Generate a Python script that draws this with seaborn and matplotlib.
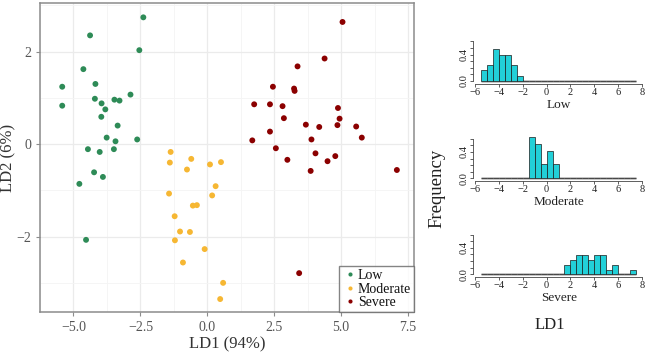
import numpy as np
import pandas as pd
import matplotlib
matplotlib.use("Agg")
import matplotlib.pyplot as plt
import seaborn as sns

# ---- data ----
groups = ["Low", "Moderate", "Severe"]
low_ld1 = [-2.39, -4.38, -2.54, -4.63, -5.42, -4.18, -2.87, -5.42, -4.20, -3.47, -3.28, -3.95, -3.81,
           -3.96, -3.35, -3.76, -3.43, -2.62, -4.46, -4.02, -3.49, -4.23, -3.90, -4.78, -4.53]
low_ld2 = [2.74, 2.35, 2.03, 1.62, 1.24, 1.30, 1.07, 0.83, 0.98, 0.96, 0.94, 0.88, 0.75,
           0.59, 0.40, 0.14, 0.06, 0.10, -0.11, -0.17, -0.11, -0.61, -0.71, -0.86, -2.07]
mod_ld1 = [-1.37, -1.40, -0.60, -0.76, 0.10, 0.51, 0.31, -1.43, 0.18, -0.54, -0.39, -1.22, -1.02,
           -0.65, -1.21, -0.10, -0.91, 0.59, 0.48]
mod_ld2 = [-0.17, -0.40, -0.32, -0.55, -0.44, -0.39, -0.91, -1.07, -1.11, -1.33, -1.32, -1.56, -1.89,
           -1.90, -2.08, -2.27, -2.56, -3.00, -3.35]
sev_ld1 = [5.05, 4.38, 3.37, 2.45, 3.24, 3.26, 1.75, 2.34, 2.81, 4.88, 2.86, 4.94, 3.68, 4.18,
           4.86, 5.56, 2.34, 5.77, 3.89, 1.68, 2.56, 4.04, 4.78, 2.99, 4.49, 3.86, 7.08, 3.43]
sev_ld2 = [2.64, 1.85, 1.68, 1.24, 1.20, 1.15, 0.86, 0.86, 0.82, 0.78, 0.56, 0.55, 0.42, 0.37,
           0.41, 0.38, 0.27, 0.14, 0.10, 0.08, -0.09, -0.20, -0.26, -0.34, -0.37, -0.58, -0.56, -2.79]

x_ticks = [-5.0, -2.5, 0.0, 2.5, 5.0, 7.5]
y_ticks = [-2, 0, 2]
hist_xticks = [-6, -4, -2, 0, 2, 4, 6, 8]
hist_yticks = [0.0, 0.1, 0.2, 0.3, 0.4, 0.5, 0.6]
hist_ylabels = ["0.0", "", "", "", "0.4", "", ""]

colors = {"Low": "#2e8b57", "Moderate": "#f6b733", "Severe": "#8b0000"}
hist_color = "#22d0d8"

df = pd.DataFrame({
    "LD1": low_ld1 + mod_ld1 + sev_ld1,
    "LD2": low_ld2 + mod_ld2 + sev_ld2,
    "Group": ["Low"] * len(low_ld1) + ["Moderate"] * len(mod_ld1) + ["Severe"] * len(sev_ld1),
})

sns.set_theme(style="white")
plt.rcParams["font.family"] = ["Liberation Serif", "DejaVu Serif"]
plt.rcParams["axes.unicode_minus"] = True

W, H = 650, 360
fig = plt.figure(figsize=(6.5, 3.6), dpi=100)

def frac(l, t, r, b):
    return [l / W, 1 - b / H, (r - l) / W, (b - t) / H]

# ---- main scatter ----
ax = fig.add_axes(frac(40, 3, 414, 312))
sns.scatterplot(data=df, x="LD1", y="LD2", hue="Group", hue_order=groups,
                palette=colors, s=18, edgecolor="none", linewidth=0, ax=ax, zorder=3)
ax.set_xlim(-6.03, 7.72)
ax.set_ylim(-3.63, 3.05)
ax.set_xticks(x_ticks)
ax.set_xticklabels([f"{v:.1f}".replace("-", "\u2212") for v in x_ticks])
ax.set_yticks(y_ticks)
ax.set_yticklabels([str(v).replace("-", "\u2212") for v in y_ticks])
ax.set_xticks([-6.25, -3.75, -1.25, 1.25, 3.75, 6.25], minor=True)
ax.set_yticks([-3, -1, 1, 3], minor=True)
ax.grid(True, which="major", color="#ebebeb", lw=0.9)
ax.grid(True, which="minor", color="#f4f4f4", lw=0.6)
ax.set_axisbelow(True)
for s in ax.spines.values():
    s.set_color("#8c8c8c")
    s.set_linewidth(1.1)
ax.tick_params(axis="both", which="major", length=3, width=0.8, color="#8c8c8c",
               labelsize=10, labelcolor="#555555", direction="out", bottom=True, left=True)
ax.tick_params(which="minor", length=0)
ax.set_xlabel("LD1 (94%)", fontsize=12, color="#333333", labelpad=2)
ax.set_ylabel("LD2 (6%)", fontsize=12, color="#333333")
ax.yaxis.set_label_coords(-0.064, 0.5)
leg = ax.legend(loc="lower right", frameon=True, fancybox=False, fontsize=10,
                borderpad=0.2, handletextpad=0.0, labelspacing=0.05, borderaxespad=0.0,
                markerscale=0.7, handlelength=1.2)
leg.get_frame().set_edgecolor("#666666")
leg.get_frame().set_linewidth(1.0)
for t in leg.get_texts():
    t.set_color("#111111")

# ---- histograms ----
edges = np.arange(-5.5, 8.0, 0.5)
series = [low_ld1, mod_ld1, sev_ld1]
baselines = [81, 178.3, 274.3]
ppu_x = 11.93
ppu_y = 66.0
x0_px = 475.0  # position of -6
xlo, xhi = -6.2, 8.3
ylo, yhi = -0.04, 0.64
for g, vals, base in zip(groups, series, baselines):
    left = x0_px + (xlo - (-6)) * ppu_x
    right = x0_px + (xhi - (-6)) * ppu_x
    bottom = base - ylo * ppu_y
    top = base - yhi * ppu_y
    hax = fig.add_axes(frac(left, top, right, bottom))
    hax.plot([edges[0], edges[-1]], [0, 0], color="#b3b3b3", lw=1.8, zorder=1,
             solid_capstyle="butt")
    sns.histplot(x=vals, bins=edges, stat="density", color=hist_color, alpha=1.0,
                 edgecolor="#1a1a1a", linewidth=0.5, ax=hax, zorder=2)
    hax.set_xlim(xlo, xhi)
    hax.set_ylim(ylo, yhi)
    hax.set_facecolor("none")
    for sname in ["top", "right"]:
        hax.spines[sname].set_visible(False)
    hax.spines["left"].set_bounds(0, 0.6)
    hax.spines["bottom"].set_bounds(-6, 8)
    for sname in ["left", "bottom"]:
        hax.spines[sname].set_color("#444444")
        hax.spines[sname].set_linewidth(0.6)
    hax.set_xticks(hist_xticks)
    hax.set_xticklabels([str(v).replace("-", "\u2212") for v in hist_xticks])
    hax.set_yticks(hist_yticks)
    hax.set_yticklabels(hist_ylabels, rotation=90, va="center")
    hax.tick_params(axis="both", length=2, width=0.6, color="#444444", labelsize=7.5,
                    pad=1, bottom=True, left=True, labelcolor="#222222")
    hax.set_ylabel("")
    hax.set_xlabel(g, fontsize=9.5, labelpad=1.5, color="#222222")

fig.text(437 / W, 1 - 188 / H, "Frequency", rotation=90, fontsize=13.5,
         ha="center", va="center", color="#222222")
fig.text(550 / W, 1 - 325 / H, "LD1", fontsize=12, ha="center", va="center", color="#222222")

fig.savefig("out.png", dpi=100)
